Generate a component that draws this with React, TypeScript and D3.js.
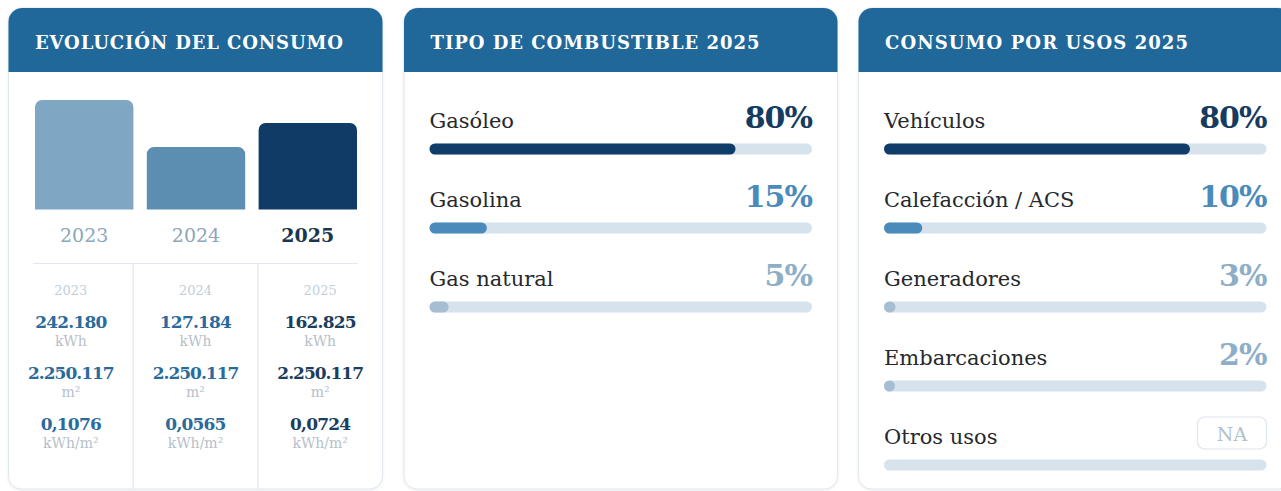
import React from "react";
import * as d3 from "d3";

// ---------- data ----------
const years = ["2023", "2024", "2025"];
const consumoKWh = ["242.180", "127.184", "162.825"];
const superficieM2 = ["2.250.117", "2.250.117", "2.250.117"];
const ratioKWhM2 = ["0,1076", "0,0565", "0,0724"];
const barRelative = [100, 57, 79]; // relative bar heights

const combustibleLabels = ["Gasóleo", "Gasolina", "Gas natural"];
const combustibleValues = [80, 15, 5];

const usosLabels = ["Vehículos", "Calefacción / ACS", "Generadores", "Embarcaciones", "Otros usos"];
const usosValues: (number | null)[] = [80, 10, 3, 2, null];

const titles = ["EVOLUCIÓN DEL CONSUMO", "TIPO DE COMBUSTIBLE 2025", "CONSUMO POR USOS 2025"];

// ---------- styles ----------
const W = 1281;
const H = 491;
const FONT = "'DejaVu Serif', serif";
const HEADER = "#1f6899";
const BORDER = "#e1e8ee";
const TRACK = "#d6e3ed";
const barColors = ["#7fa7c4", "#5b8eb0", "#0f3b66"];
const yearLabelColors = ["#8da6bc", "#8da6bc", "#1a3552"];
const valueColors = ["#2a6b9c", "#2a6b9c", "#1b3d5e"];

function pctStyle(v: number) {
  if (v >= 50) return { fill: "#0f3c68", text: "#163b60" };
  if (v >= 10) return { fill: "#4b8bbb", text: "#4b8bbb" };
  return { fill: "#a6bed2", text: "#8eaec8" };
}

const panels = [
  { x: 8.5, w: 374 },
  { x: 404, w: 433.5 },
  { x: 858.5, w: 433.5 },
];
const TOP = 8;
const BOTTOM = 489;
const HEAD_H = 64;
const titleWidths = [308, 329, 303];

function headerPath(x: number, w: number, r: number) {
  const p = d3.path();
  p.moveTo(x, TOP + HEAD_H);
  p.lineTo(x, TOP + r);
  p.arcTo(x, TOP, x + r, TOP, r);
  p.lineTo(x + w - r, TOP);
  p.arcTo(x + w, TOP, x + w, TOP + r, r);
  p.lineTo(x + w, TOP + HEAD_H);
  p.closePath();
  return p.toString();
}

function topRoundedBar(x: number, y: number, w: number, h: number, r: number) {
  const p = d3.path();
  p.moveTo(x, y + h);
  p.lineTo(x, y + r);
  p.arcTo(x, y, x + r, y, r);
  p.lineTo(x + w - r, y);
  p.arcTo(x + w, y, x + w, y + r, r);
  p.lineTo(x + w, y + h);
  p.closePath();
  return p.toString();
}

function ProgressRows({ px, pw, labels, values }: { px: number; pw: number; labels: string[]; values: (number | null)[] }) {
  const x0 = px + 25.5;
  const x1 = px + pw - 25.5;
  const xs = d3.scaleLinear().domain([0, 100]).range([x0, x1]);
  const rowY = d3.scaleLinear().domain([0, 1]).range([0, 79]);
  const trackH = 11;
  return (
    <g>
      {labels.map((lab, i) => {
        const base = 128 + rowY(i);
        const ty = base + 15.5;
        const v = values[i];
        const st = v == null ? null : pctStyle(v);
        const fw = v == null ? 0 : Math.max(xs(v) - x0, trackH);
        return (
          <g key={lab}>
            <text x={x0} y={base} fontFamily={FONT} fontSize={21} fill="#25292e">
              {lab}
            </text>
            {v != null ? (
              <text x={x1} y={base} textAnchor="end" fontFamily={FONT} fontWeight="bold" fontSize={30} fill={st!.text} letterSpacing={-1}>
                {v}%
              </text>
            ) : (
              <g>
                <rect x={x1 - 69} y={base - 27} width={69} height={32} rx={7} fill="#fff" stroke="#dde5ec" strokeWidth={1.2} />
                <text x={x1 - 34.5} y={base - 3} textAnchor="middle" fontFamily={FONT} fontSize={19} fill="#b0c1cf">
                  NA
                </text>
              </g>
            )}
            <rect x={x0} y={ty} width={x1 - x0} height={trackH} rx={trackH / 2} fill={TRACK} />
            {v != null && <rect x={x0} y={ty} width={fw} height={trackH} rx={trackH / 2} fill={st!.fill} />}
          </g>
        );
      })}
    </g>
  );
}

export default function App() {
  const p0 = panels[0];
  const xb = d3.scaleBand<string>().domain(years).range([35, 357]).paddingInner(0.12).paddingOuter(0);
  const yb = d3.scaleLinear().domain([0, 100]).range([209.5, 100]);
  const colW = p0.w / 3;
  const colX = (i: number) => p0.x + colW * i + colW / 2;

  return (
    <svg width={W} height={H} style={{ position: "absolute", left: 0, top: 0, background: "#fff" }}>
      <defs>
        <filter id="sh" x="-5%" y="-5%" width="110%" height="110%">
          <feDropShadow dx="0" dy="1" stdDeviation="1.5" floodColor="#9fb3c4" floodOpacity="0.25" />
        </filter>
      </defs>
      {panels.map((p, i) => (
        <g key={i}>
          <rect x={p.x} y={TOP} width={p.w} height={BOTTOM - TOP} rx={13} fill="#fff" stroke={BORDER} strokeWidth={1} filter="url(#sh)" />
          <path d={headerPath(p.x, p.w, 14)} fill={HEADER} />
          <text
            x={p.x + 26.5}
            y={49}
            fontFamily={FONT}
            fontWeight="bold"
            fontSize={18}
            fill="#fff"
            textLength={titleWidths[i]}
            lengthAdjust="spacing"
          >
            {titles[i]}
          </text>
        </g>
      ))}

      {/* Panel 1: bars */}
      {years.map((y, i) => (
        <path key={y} d={topRoundedBar(xb(y)!, yb(barRelative[i]), xb.bandwidth(), yb(0) - yb(barRelative[i]), 7)} fill={barColors[i]} />
      ))}
      {years.map((y, i) => (
        <text
          key={"l" + y}
          x={xb(y)! + xb.bandwidth() / 2}
          y={242}
          textAnchor="middle"
          fontFamily={FONT}
          fontSize={19}
          fontWeight={i === 2 ? "bold" : "normal"}
          fill={yearLabelColors[i]}
        >
          {y}
        </text>
      ))}

      {/* Panel 1: table */}
      <line x1={33} x2={358} y1={263.5} y2={263.5} stroke={BORDER} strokeWidth={1.2} />
      <line x1={p0.x + colW} x2={p0.x + colW} y1={263.5} y2={BOTTOM} stroke={BORDER} strokeWidth={1.2} />
      <line x1={p0.x + 2 * colW} x2={p0.x + 2 * colW} y1={263.5} y2={BOTTOM} stroke={BORDER} strokeWidth={1.2} />
      {years.map((y, i) => {
        const cx = colX(i);
        return (
          <g key={"t" + y} fontFamily={FONT} textAnchor="middle">
            <text x={cx} y={295} fontSize={13} fill="#c3ced8">{y}</text>
            <text x={cx} y={328} fontSize={17} fontWeight="bold" fill={valueColors[i]} letterSpacing={-0.8}>{consumoKWh[i]}</text>
            <text x={cx} y={346} fontSize={14} fill="#b6c0ca">kWh</text>
            <text x={cx} y={379} fontSize={17} fontWeight="bold" fill={valueColors[i]} letterSpacing={-1}>{superficieM2[i]}</text>
            <text x={cx} y={397} fontSize={14} fill="#b6c0ca">m²</text>
            <text x={cx} y={430} fontSize={17} fontWeight="bold" fill={valueColors[i]} letterSpacing={-0.8}>{ratioKWhM2[i]}</text>
            <text x={cx} y={448} fontSize={14} fill="#b6c0ca">kWh/m²</text>
          </g>
        );
      })}

      {/* Panel 2 */}
      <ProgressRows px={panels[1].x} pw={panels[1].w} labels={combustibleLabels} values={combustibleValues} />
      {/* Panel 3 */}
      <ProgressRows px={panels[2].x} pw={panels[2].w} labels={usosLabels} values={usosValues} />
    </svg>
  );
}
